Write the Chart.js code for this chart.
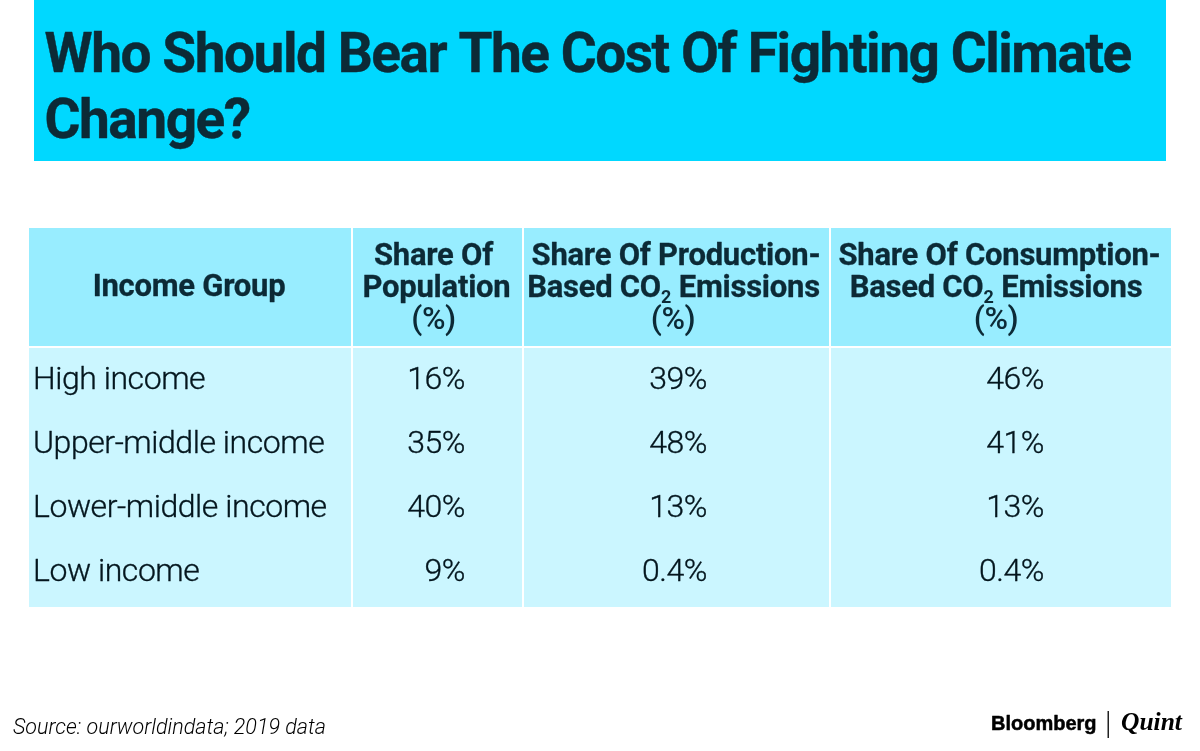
<!DOCTYPE html>
<html>
<head>
<meta charset="utf-8">
<title>Who Should Bear The Cost Of Fighting Climate Change?</title>
<script src="https://cdn.jsdelivr.net/npm/chart.js@4/dist/chart.umd.min.js"></script>
<style>
  html, body { margin: 0; padding: 0; background: #fff; }
  canvas { display: block; }
</style>
</head>
<body>
<canvas id="tableChart" width="1200" height="751"></canvas>
<script>
// Data
const titleLines = ['Who Should Bear The Cost Of Fighting Climate', 'Change?'];
const incomeGroups = ['High income', 'Upper-middle income', 'Lower-middle income', 'Low income'];
const populationShare = [16, 35, 40, 9];
const productionShare = [39, 48, 13, 0.4];
const consumptionShare = [46, 41, 13, 0.4];
const sourceNote = 'Source: ourworldindata; 2019 data';

// Layout, in axis units (one unit = one pixel of the page)
const columnEdges = [29, 352, 523, 830, 1171];
const headerTop = 228;
const headerBottom = 347;
const tableBottom = 607;
const rowBaselines = [389, 453, 517, 581];
const valueRightEdges = [465, 707, 1044];

const DARK = '#0c2a36';
const FONT = 'Roboto, "Liberation Sans", sans-serif';

function drawText(ctx, text, x, y, font, color, align, spacing, stroke) {
    ctx.font = font;
    ctx.fillStyle = color;
    ctx.textAlign = align || 'left';
    ctx.textBaseline = 'alphabetic';
    ctx.letterSpacing = (spacing || 0) + 'px';
    ctx.fillText(text, x, y);
    if (stroke) {
        ctx.strokeStyle = color;
        ctx.lineWidth = stroke;
        ctx.lineJoin = 'round';
        ctx.strokeText(text, x, y);
    }
    ctx.letterSpacing = '0px';
}

// Header line with a subscript 2 after CO, centred on x
function drawCo2Line(ctx, x, y, font, spacing, stroke) {
    const before = 'Based CO';
    const after = ' Emissions';
    const subFont = '700 18px ' + FONT;
    ctx.font = font;
    ctx.letterSpacing = spacing + 'px';
    const w1 = ctx.measureText(before).width;
    const w3 = ctx.measureText(after).width;
    ctx.font = subFont;
    ctx.letterSpacing = '0px';
    const w2 = ctx.measureText('2').width;
    const left = x - (w1 + w2 + w3) / 2;
    drawText(ctx, before, left, y, font, DARK, 'left', spacing, stroke);
    drawText(ctx, '2', left + w1, y + 6, subFont, DARK, 'left');
    drawText(ctx, after, left + w1 + w2, y, font, DARK, 'left', spacing, stroke);
}

const tablePlugin = {
    id: 'tablePlugin',
    beforeDatasetsDraw(chart) {
        const ctx = chart.ctx;
        const sx = chart.scales.x;
        const sy = chart.scales.y;
        ctx.save();

        // Title band
        ctx.fillStyle = '#00d8ff';
        ctx.fillRect(sx.getPixelForValue(34), sy.getPixelForValue(0), 1132, 161);

        // Cells
        for (let c = 0; c < columnEdges.length - 1; c++) {
            const left = sx.getPixelForValue(columnEdges[c]);
            const right = sx.getPixelForValue(columnEdges[c + 1]);
            const gapL = c === 0 ? 0 : 1;
            const gapR = c === columnEdges.length - 2 ? 0 : 1;
            ctx.fillStyle = '#98edff';
            ctx.fillRect(left + gapL, sy.getPixelForValue(headerTop), right - left - gapL - gapR, headerBottom - headerTop - 1);
            ctx.fillStyle = '#cbf6ff';
            ctx.fillRect(left + gapL, sy.getPixelForValue(headerBottom + 1), right - left - gapL - gapR, tableBottom - headerBottom - 1);
        }
        ctx.restore();
    },
    afterDatasetsDraw(chart) {
        const ctx = chart.ctx;
        const sx = chart.scales.x;
        const sy = chart.scales.y;
        ctx.save();

        // Title
        const titleFont = '700 55px ' + FONT;
        drawText(ctx, titleLines[0], sx.getPixelForValue(44.5), sy.getPixelForValue(72), titleFont, DARK, 'left', -1.47, 0.4);
        drawText(ctx, titleLines[1], sx.getPixelForValue(44.5), sy.getPixelForValue(138), titleFont, DARK, 'left', -1.47, 0.4);

        // Header
        const headFont = '700 31px ' + FONT;
        const pctFont = '500 32px ' + FONT;
        const hs = -0.25;
        const hw = 0.3;
        drawText(ctx, 'Income Group', 189, 296, headFont, DARK, 'center', hs, hw);
        drawText(ctx, 'Share Of', 433.5, 265, headFont, DARK, 'center', hs, hw);
        drawText(ctx, 'Population', 436.5, 297, headFont, DARK, 'center', hs, hw);
        drawText(ctx, '(%)', 433.5, 329, pctFont, DARK, 'center', -0.5);
        drawText(ctx, 'Share Of Production-', 676, 265, headFont, DARK, 'center', hs, hw);
        drawCo2Line(ctx, 673.5, 297, headFont, hs, hw);
        drawText(ctx, '(%)', 673, 329, pctFont, DARK, 'center', -0.5);
        drawText(ctx, 'Share Of Consumption-', 999.5, 265, headFont, DARK, 'center', hs, hw);
        drawCo2Line(ctx, 996, 297, headFont, hs, hw);
        drawText(ctx, '(%)', 996, 329, pctFont, DARK, 'center', -0.5);

        // Row labels and values, at the points the scales placed
        const bodyFont = '300 32px ' + FONT;
        const bodyColor = '#04161e';
        incomeGroups.forEach((name, r) => {
            drawText(ctx, name, sx.getPixelForValue(33), sy.getPixelForValue(rowBaselines[r]), bodyFont, bodyColor, 'left', -0.45, 0.35);
        });
        chart.data.datasets.forEach((ds, d) => {
            chart.getDatasetMeta(d).data.forEach((pt, r) => {
                drawText(ctx, ds.shares[r] + '%', pt.x, pt.y, bodyFont, bodyColor, 'right', -0.45, 0.35);
            });
        });

        // Source and logo
        drawText(ctx, sourceNote, 13, 734, 'italic 300 21.5px ' + FONT, '#000');
        drawText(ctx, 'Bloomberg', 991, 730, '700 20px "Liberation Sans", sans-serif', '#000', 'left', 0, 0.5);
        ctx.fillStyle = '#222';
        ctx.fillRect(1107.5, 711, 1.5, 27);
        drawText(ctx, 'Quint', 1121, 730, 'italic 700 25.5px "Liberation Serif", serif', '#000');
        ctx.restore();
    }
};

function valuePoints(col) {
    return rowBaselines.map(y => ({ x: valueRightEdges[col], y: y }));
}

new Chart(document.getElementById('tableChart').getContext('2d'), {
    type: 'scatter',
    data: {
        datasets: [
            { label: 'Share Of Population (%)', shares: populationShare, data: valuePoints(0), pointRadius: 0 },
            { label: 'Share Of Production-Based CO2 Emissions (%)', shares: productionShare, data: valuePoints(1), pointRadius: 0 },
            { label: 'Share Of Consumption-Based CO2 Emissions (%)', shares: consumptionShare, data: valuePoints(2), pointRadius: 0 }
        ]
    },
    options: {
        responsive: false,
        animation: false,
        layout: { padding: 0 },
        plugins: { legend: { display: false }, tooltip: { enabled: false } },
        scales: {
            x: { type: 'linear', min: 0, max: 1200, display: false },
            y: { type: 'linear', min: 0, max: 751, reverse: true, display: false }
        }
    },
    plugins: [tablePlugin]
});
</script>
</body>
</html>
